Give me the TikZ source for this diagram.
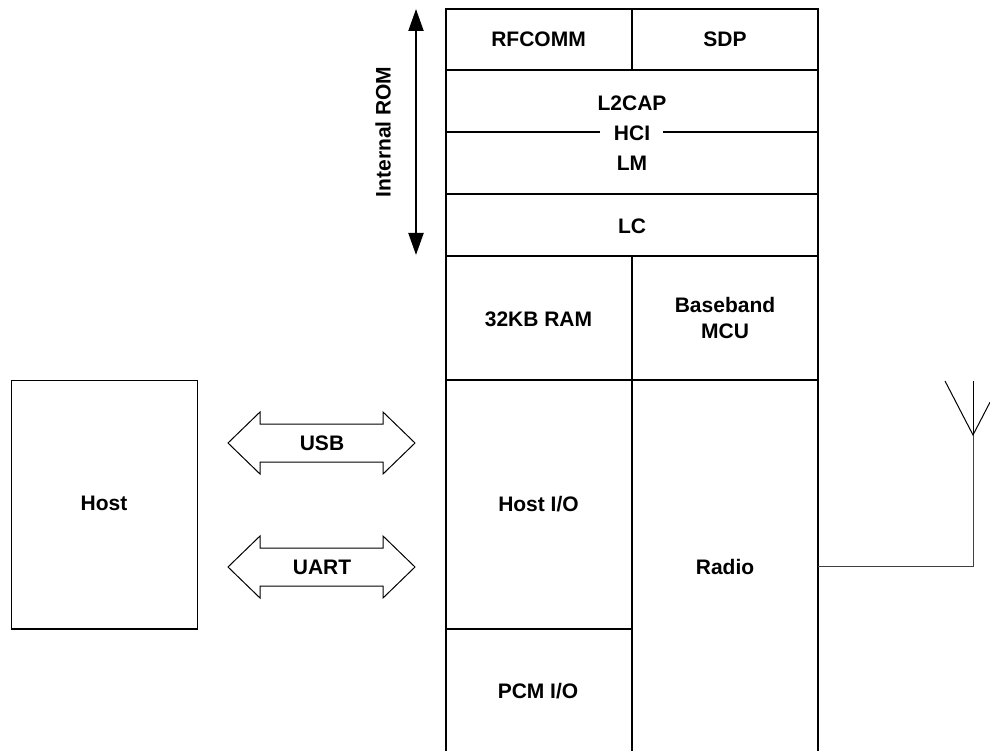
\documentclass[tikz,border=0pt]{standalone}
\usepackage{fontspec}
\setmainfont{Liberation Sans}
\usetikzlibrary{arrows.meta}
\begin{document}
\begin{tikzpicture}[x=1pt,y=-1pt,
  lbl/.style={font=\bfseries\fontsize{21}{26}\selectfont,inner sep=0pt,align=center},
  one/.style={text height=15pt,text depth=0pt},
  stk/.style={line width=2pt},
  thin/.style={line width=1.2pt},
  bus/.style={line width=1pt,line join=miter},
  wire/.style={line width=1pt,draw=black!75}]
\useasboundingbox (0,0) rectangle (990,751);
% protocol stack
\draw[stk] (446,751) -- (446,9) -- (818,9) -- (818,751);
\draw[stk] (446,70) -- (818,70);
\draw[stk] (632,9) -- (632,70);
\draw[stk] (446,132.5) -- (600,132.5);
\draw[stk] (663,132.5) -- (818,132.5);
\draw[stk] (446,194.5) -- (818,194.5);
\draw[stk] (446,256.5) -- (818,256.5);
\draw[stk] (632,256.5) -- (632,751);
\draw[stk] (446,380) -- (818,380);
\draw[stk] (446,629) -- (632,629);
\node[lbl,one] (rfcomm) at (538.5,39) {RFCOMM};
\node[lbl,one] (sdp) at (725,39) {SDP};
\node[lbl,one] (l2cap) at (632,103) {L2CAP};
\node[lbl,one] (hci) at (632,133) {HCI};
\node[lbl,one] (lm) at (632,163.5) {LM};
\node[lbl,one] (lc) at (632,226.5) {LC};
\node[lbl,one] (ram) at (538.5,319) {32KB RAM};
\node[lbl] (mcu) at (725,317.5) {Baseband\\MCU};
\node[lbl,one] (hostio) at (538.5,504) {Host I/O};
\node[lbl,one] (pcm) at (538,690.5) {PCM I/O};
\node[lbl,one] (radio) at (725,566.7) {Radio};
% internal ROM arrow
\coordinate (romtop) at (416,9);
\coordinate (rombot) at (416,255);
\draw[stk,{Triangle[length=22pt,width=15pt]}-{Triangle[length=22pt,width=15pt]}] (romtop) -- (rombot);
\node[lbl,one,rotate=90] (rom) at (383,132) {Internal ROM};
% host
\draw[thin] (11.7,380.7) rectangle (197.7,629);
\node[lbl,one] (host) at (104,503) {Host};
% USB double arrow
\draw[bus] (228,443) -- (260,412) -- (260,424) -- (383,424) -- (383,412) -- (415,443)
  -- (383,474) -- (383,462) -- (260,462) -- (260,474) -- cycle;
\node[lbl,one] (usb) at (322,443) {USB};
% UART double arrow
\draw[bus] (228,567) -- (260,536) -- (260,548) -- (383,548) -- (383,536) -- (415,567)
  -- (383,598) -- (383,586) -- (260,586) -- (260,598) -- cycle;
\node[lbl,one] (uart) at (322,567) {UART};
% radio to antenna
\coordinate (rfout) at (818,566.7);
\coordinate (ant) at (973,435);
\draw[wire] (rfout) -- (973,566.7) -- (ant);
\draw[line width=1pt] (973,381) -- (ant);
\draw[line width=1pt] (945,381) -- (ant) -- (990,402.2);
\end{tikzpicture}
\end{document}
